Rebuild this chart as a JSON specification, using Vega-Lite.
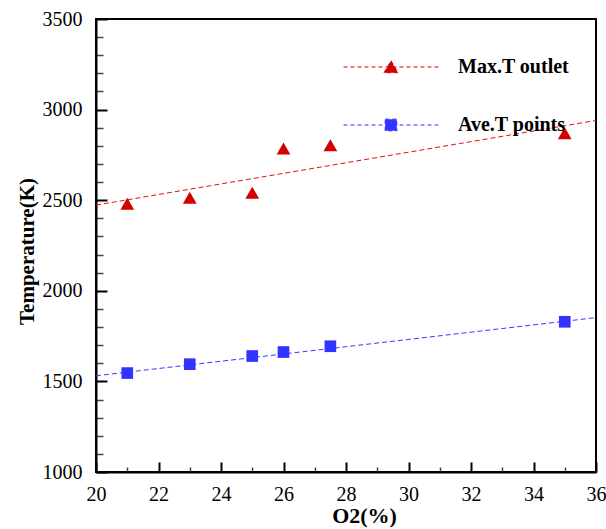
{
  "$schema": "https://vega.github.io/schema/vega-lite/v6.json",
  "width": 500,
  "height": 453,
  "autosize": "none",
  "padding": {"left": 96, "top": 19, "right": 10, "bottom": 57},
  "background": "white",
  "config": {"view": {"stroke": "black", "strokeWidth": 2}, "font": "Liberation Serif"},
  "datasets": {
    "points": [
      {"series": "Max.T outlet", "o2": 21, "temp": 2480},
      {"series": "Max.T outlet", "o2": 23, "temp": 2514},
      {"series": "Max.T outlet", "o2": 25, "temp": 2541},
      {"series": "Max.T outlet", "o2": 26, "temp": 2785},
      {"series": "Max.T outlet", "o2": 27.5, "temp": 2803},
      {"series": "Max.T outlet", "o2": 35, "temp": 2870},
      {"series": "Ave.T points", "o2": 21, "temp": 1546},
      {"series": "Ave.T points", "o2": 23, "temp": 1595},
      {"series": "Ave.T points", "o2": 25, "temp": 1640},
      {"series": "Ave.T points", "o2": 26, "temp": 1662},
      {"series": "Ave.T points", "o2": 27.5, "temp": 1694},
      {"series": "Ave.T points", "o2": 35, "temp": 1829}
    ],
    "trendMax": [
      {"series": "Max.T outlet", "o2": 20, "temp": 2473},
      {"series": "Max.T outlet", "o2": 36, "temp": 2940}
    ],
    "trendAve": [
      {"series": "Ave.T points", "o2": 20, "temp": 1531},
      {"series": "Ave.T points", "o2": 36, "temp": 1852}
    ]
  },
  "encoding": {
    "x": {
      "field": "o2", "type": "quantitative",
      "scale": {"domain": [20, 36], "nice": false, "zero": false},
      "axis": {
        "title": "O2(%)",
        "values": [20, 20.5, 21, 21.5, 22, 22.5, 23, 23.5, 24, 24.5, 25, 25.5, 26, 26.5, 27, 27.5, 28, 28.5, 29, 29.5, 30, 30.5, 31, 31.5, 32, 32.5, 33, 33.5, 34, 34.5, 35, 35.5, 36],
        "format": "d",
        "tickSize": {"condition": {"test": "datum.value % 2 === 0", "value": -10}, "value": -5},
        "tickWidth": {"condition": {"test": "datum.value % 2 === 0", "value": 2}, "value": 1.5},
        "tickColor": {"condition": {"test": "datum.value % 2 === 0", "value": "black"}, "value": "#444"},
        "labelExpr": "datum.value % 2 === 0 ? datum.label : ''",
        "labelPadding": 22,
        "labelFontSize": 20,
        "labelFont": "Liberation Serif",
        "labelColor": "black",
        "labelOverlap": false,
        "labelFlush": false,
        "labelBound": false,
        "domainColor": "black",
        "domainWidth": 2,
        "grid": false,
        "titleFont": "Liberation Serif",
        "titleFontWeight": "bold",
        "titleFontSize": 22,
        "titleColor": "black",
        "titlePadding": -4,
        "titleX": 268
      }
    },
    "y": {
      "field": "temp", "type": "quantitative",
      "scale": {"domain": [1000, 3500], "nice": false, "zero": false},
      "axis": {
        "title": "Temperature(K)",
        "values": [1000, 1100, 1200, 1300, 1400, 1500, 1600, 1700, 1800, 1900, 2000, 2100, 2200, 2300, 2400, 2500, 2600, 2700, 2800, 2900, 3000, 3100, 3200, 3300, 3400, 3500],
        "format": "d",
        "tickSize": {"condition": {"test": "datum.value % 500 === 0", "value": -11}, "value": -7},
        "tickWidth": {"condition": {"test": "datum.value % 500 === 0", "value": 2}, "value": 1.5},
        "tickColor": {"condition": {"test": "datum.value % 500 === 0", "value": "black"}, "value": "#444"},
        "labelExpr": "datum.value % 500 === 0 ? datum.label : ''",
        "labelPadding": 25,
        "labelFontSize": 20,
        "labelFont": "Liberation Serif",
        "labelColor": "black",
        "labelOverlap": false,
        "labelFlush": false,
        "labelBound": false,
        "domainColor": "black",
        "domainWidth": 2,
        "grid": false,
        "titleFont": "Liberation Serif",
        "titleFontWeight": "bold",
        "titleFontSize": 21,
        "titleColor": "black",
        "titlePadding": 5,
        "titleY": 232
      }
    }
  },
  "layer": [
    {
      "data": {"name": "trendMax"},
      "mark": {"type": "line", "strokeDash": [5, 3], "strokeWidth": 1, "color": "#dd1111"},
      "encoding": {}
    },
    {
      "data": {"name": "trendAve"},
      "mark": {"type": "line", "strokeDash": [5, 3], "strokeWidth": 1, "color": "#3838ff"},
      "encoding": {}
    },
    {
      "data": {"name": "points"},
      "mark": {"type": "point", "filled": true, "opacity": 1},
      "encoding": {
        "color": {
          "field": "series", "type": "nominal",
          "scale": {"domain": ["Max.T outlet", "Ave.T points"], "range": ["#d40000", "#3333ff"]},
          "legend": {
            "orient": "none",
            "legendX": 247,
            "legendY": 0,
            "title": null,
            "padding": 0,
            "labelFont": "Liberation Serif",
            "labelFontWeight": "bold",
            "labelFontSize": 20,
            "labelColor": "black",
            "labelOffset": 19,
            "rowPadding": -26,
            "symbolSize": 9025,
            "symbolStrokeWidth": 1,
            "symbolOpacity": 1,
            "encode": {
              "symbols": {
                "update": {
                  "shape": {"signal": "datum.value === 'Max.T outlet' ? 'M-1,0H1M-0.147,0.12L0,-0.133L0.147,0.12Z' : 'M-1,0H1M-0.123,-0.123H0.123V0.123H-0.123Z'"},
                  "stroke": {"signal": "datum.value === 'Max.T outlet' ? '#d40000' : '#3333ff'"},
                  "fill": {"signal": "datum.value === 'Max.T outlet' ? '#d40000' : '#3333ff'"},
                  "size": {"value": 9025},
                  "strokeWidth": {"value": 1},
                  "strokeDash": {"value": [4, 3]},
                  "opacity": {"value": 1}
                }
              }
            }
          }
        },
        "shape": {
          "condition": {"test": "datum.series === 'Max.T outlet'", "value": "triangle-up"},
          "value": "square"
        },
        "size": {
          "condition": {"test": "datum.series === 'Max.T outlet'", "value": 190},
          "value": 136
        }
      }
    }
  ]
}
